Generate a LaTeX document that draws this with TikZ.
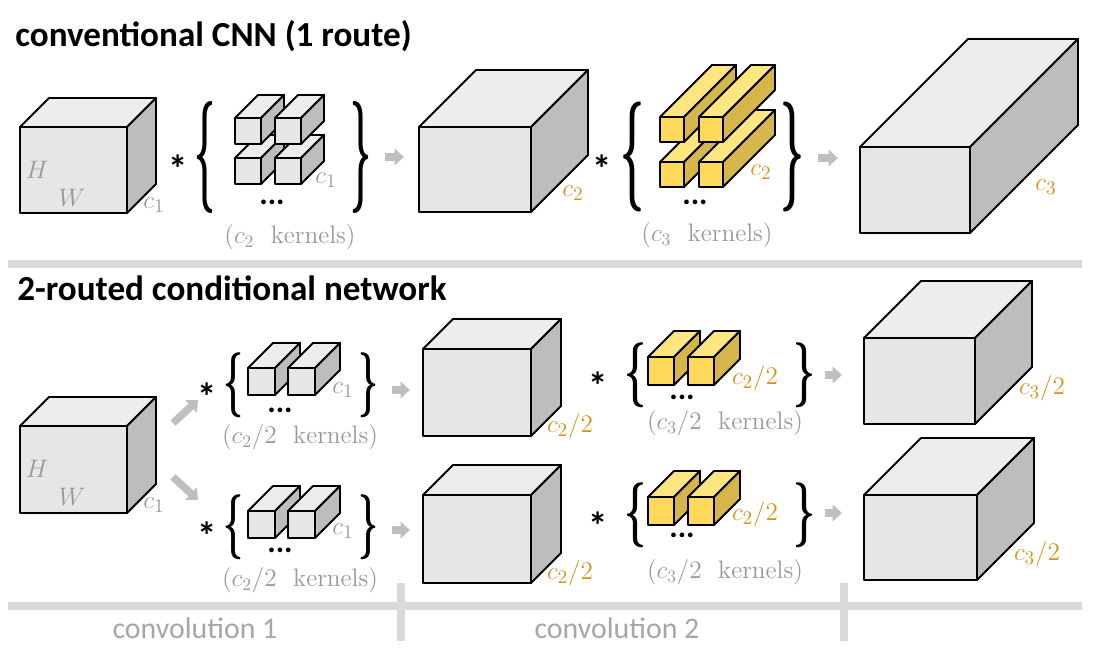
\documentclass[tikz,border=0pt]{standalone}
\usepackage{fontspec}
\usepackage{graphicx}
\newfontfamily\calibri{Carlito}
\usetikzlibrary{arrows.meta}

\definecolor{grfront}{HTML}{E6E6E6}
\definecolor{grtop}{HTML}{EDEDED}
\definecolor{grside}{HTML}{BDBDBD}
\definecolor{yefront}{HTML}{FFD95A}
\definecolor{yetop}{HTML}{FFE680}
\definecolor{yeside}{HTML}{D6B64A}
\definecolor{labelgray}{HTML}{999999}
\definecolor{labelorange}{HTML}{D6941A}
\definecolor{sepgray}{HTML}{D9D9D9}
\definecolor{arrowgray}{HTML}{BFBFBF}
\definecolor{convgray}{HTML}{A6A6A6}

\tikzset{
  cubeline/.style={draw=black, line width=1.1pt, line join=round},
  sepline/.style={draw=sepgray, line width=0.16cm},
  grayarrow/.style={draw=arrowgray, line width=0.15cm, -{Triangle[length=0.19cm, width=0.33cm]}},
  title/.style={font=\calibri\bfseries\fontsize{20}{24}\selectfont, anchor=base west, inner sep=0},
  mathlbl/.style={font=\fontsize{15.5}{18}\selectfont, text=labelgray, inner sep=0},
  orlbl/.style={mathlbl, text=labelorange},
  kernlbl/.style={font=\fontsize{14.4}{17}\selectfont, text=labelgray, inner sep=0},
  asterisk/.style={font=\calibri\bfseries\fontsize{22}{26}\selectfont, inner sep=0, yshift=-5pt},
  ellip/.style={font=\calibri\bfseries\fontsize{18}{20}\selectfont, inner sep=0},
  convlbl/.style={font=\calibri\fontsize{17}{20}\selectfont, text=convgray, inner sep=0},
  bracenode/.style={inner sep=0, text=black}
}

% cuboid: x, y (front top-left), width, height, depth, colour set
\newcommand{\cuboid}[6]{%
  \draw[cubeline, fill=#6top] (#1,#2) -- ++(#5,-#5) -- ++(#3,0) -- ++(-#5,#5) -- cycle;
  \draw[cubeline, fill=#6side] (#1+#3,#2) -- ++(#5,-#5) -- ++(0,#4) -- ++(-#5,#5) -- cycle;
  \draw[cubeline, fill=#6front] (#1,#2) rectangle ++(#3,#4);
}
% braces: width, height
\newcommand{\lbrc}[2]{\resizebox*{#1}{#2}{\bfseries\{}}
\newcommand{\rbrc}[2]{\resizebox*{#1}{#2}{\bfseries\}}}

\begin{document}
\begin{tikzpicture}[x=0.02cm, y=-0.02cm]
    \useasboundingbox[fill=white] (0,0) rectangle (1094,648);

    % Separators
    \draw[sepline] (8,264) -- (1082,264);
    \draw[sepline] (8,606) -- (1082,606);
    \draw[sepline] (401,583) -- (401,641);
    \draw[sepline] (844,583) -- (844,641);

    % Conventional CNN
    \node[title] (ttop) at (15,47) {conventional CNN (1 route)};

    % Input
    \cuboid{20}{127}{107}{86}{29}{gr}
    \node[mathlbl] (h1) at (37,170) {$H$};
    \node[mathlbl] (w1) at (72,198) {$W$};
    \node[mathlbl] (cin1) at (154,205) {$c_1$};

    % Convolution 1
    \node[asterisk] (ast1) at (178,160) {*};
    \node[bracenode] (lb1) at (205,157) {\lbrc{0.42cm}{2.24cm}};
    \cuboid{235}{158}{26}{26}{23}{gr}
    \cuboid{275}{158}{26}{26}{23}{gr}
    \cuboid{235}{118}{26}{26}{23}{gr}
    \cuboid{275}{118}{26}{26}{23}{gr}
    \node[ellip] (dot1) at (272,202) {...};
    \node[mathlbl] (ck1) at (326,180) {$c_1$};
    \node[bracenode] (rb1) at (361,157) {\rbrc{0.42cm}{2.24cm}};
    \node[kernlbl] (kn1) at (290,237) {$(c_2\ \ \mathrm{kernels})$};

    \coordinate (a1s) at (385,157);
    \coordinate (a1e) at (404,157);
    \draw[grayarrow] (a1s) -- (a1e);

    % Convolution 2
    \cuboid{419}{127}{112}{85}{57}{gr}
    \node[orlbl] (cmid1) at (573,193) {$c_2$};
    \node[asterisk] (ast2) at (602,160) {*};
    \node[bracenode] (lb2) at (632,157) {\lbrc{0.48cm}{2.2cm}};
    \cuboid{660}{162}{24}{25}{52}{ye}
    \cuboid{699}{162}{24}{25}{52}{ye}
    \cuboid{660}{117}{24}{25}{52}{ye}
    \cuboid{699}{117}{24}{25}{52}{ye}
    \node[ellip] (dot2) at (695,202) {...};
    \node[orlbl] (ck2) at (761,172) {$c_2$};
    \node[bracenode] (rb2) at (792,157) {\rbrc{0.48cm}{2.2cm}};
    \node[kernlbl] (kn2) at (707,235) {$(c_3\ \ \mathrm{kernels})$};

    \coordinate (a2s) at (818,158);
    \coordinate (a2e) at (838,158);
    \draw[grayarrow] (a2s) -- (a2e);

    % Output
    \cuboid{860}{147}{110}{86}{108}{gr}
    \node[orlbl] (cout1) at (1046,187) {$c_3$};

    % 2-routed conditional network
    \node[title] (tbot) at (17,300) {2-routed conditional network};

    % Input
    \cuboid{20}{426}{107}{87}{29}{gr}
    \node[mathlbl] (h2) at (37,469) {$H$};
    \node[mathlbl] (w2) at (72,497) {$W$};
    \node[mathlbl] (cin2) at (154,505) {$c_1$};

    \coordinate (r1s) at (173,423);
    \coordinate (r1e) at (198,400);
    \coordinate (r2s) at (173,477);
    \coordinate (r2e) at (198,500);
    \draw[grayarrow] (r1s) -- (r1e);
    \draw[grayarrow] (r2s) -- (r2e);

    % Convolution 1, route 1
    \node[asterisk] (ast3) at (207,388) {*};
    \node[bracenode] (lb3) at (233,385) {\lbrc{0.4cm}{1.3cm}};
    \cuboid{248}{368}{27}{27}{25}{gr}
    \cuboid{288}{368}{27}{27}{25}{gr}
    \node[ellip] (dot3) at (280,410) {...};
    \node[mathlbl] (ck3) at (343,390) {$c_1$};
    \node[bracenode] (rb3) at (368,385) {\rbrc{0.4cm}{1.3cm}};
    \node[kernlbl] (kn3) at (300,437) {$(c_2/2\ \ \mathrm{kernels})$};

    % Convolution 1, route 2
    \node[asterisk] (ast4) at (207,527) {*};
    \node[bracenode] (lb4) at (233,527) {\lbrc{0.4cm}{1.3cm}};
    \cuboid{248}{511}{27}{27}{25}{gr}
    \cuboid{288}{511}{27}{27}{25}{gr}
    \node[ellip] (dot4) at (280,550) {...};
    \node[mathlbl] (ck4) at (343,531) {$c_1$};
    \node[bracenode] (rb4) at (368,527) {\rbrc{0.4cm}{1.3cm}};
    \node[kernlbl] (kn4) at (300,580) {$(c_2/2\ \ \mathrm{kernels})$};

    \coordinate (a3s) at (392,390);
    \coordinate (a3e) at (410,390);
    \coordinate (a4s) at (392,530);
    \coordinate (a4e) at (410,530);
    \draw[grayarrow] (a3s) -- (a3e);
    \draw[grayarrow] (a4s) -- (a4e);

    % Convolution 2, route 1
    \cuboid{423}{349}{108}{87}{30}{gr}
    \node[orlbl] (cmid2) at (570,426) {$c_2/2$};
    \node[asterisk] (ast5) at (598,377) {*};
    \node[bracenode] (lb5) at (635,375) {\lbrc{0.44cm}{1.3cm}};
    \cuboid{648}{357}{26}{28}{26}{ye}
    \cuboid{688}{357}{26}{28}{26}{ye}
    \node[ellip] (dot5) at (682,397) {...};
    \node[orlbl] (ck5) at (755,378) {$c_2/2$};
    \node[bracenode] (rb5) at (804,375) {\rbrc{0.44cm}{1.3cm}};
    \node[kernlbl] (kn5) at (725,423) {$(c_3/2\ \ \mathrm{kernels})$};

    % Convolution 2, route 2
    \cuboid{423}{495}{108}{88}{30}{gr}
    \node[orlbl] (cmid3) at (570,573) {$c_2/2$};
    \node[asterisk] (ast6) at (598,517) {*};
    \node[bracenode] (lb6) at (635,515) {\lbrc{0.44cm}{1.3cm}};
    \cuboid{648}{497}{26}{28}{26}{ye}
    \cuboid{688}{497}{26}{28}{26}{ye}
    \node[ellip] (dot6) at (682,535) {...};
    \node[orlbl] (ck6) at (755,514) {$c_2/2$};
    \node[bracenode] (rb6) at (804,515) {\rbrc{0.44cm}{1.3cm}};
    \node[kernlbl] (kn6) at (725,572) {$(c_3/2\ \ \mathrm{kernels})$};

    \coordinate (a5s) at (825,375);
    \coordinate (a5e) at (842,375);
    \coordinate (a6s) at (825,513);
    \coordinate (a6e) at (842,513);
    \draw[grayarrow] (a5s) -- (a5e);
    \draw[grayarrow] (a6s) -- (a6e);

    % Outputs
    \cuboid{864}{338}{111}{86}{57}{gr}
    \node[orlbl] (cout2) at (1042,388) {$c_3/2$};
    \cuboid{864}{495}{113}{85}{57}{gr}
    \node[orlbl] (cout3) at (1037,554) {$c_3/2$};

    % Stages
    \node[convlbl] (conv1) at (195,628) {convolution 1};
    \node[convlbl] (conv2) at (617,628) {convolution 2};
\end{tikzpicture}
\end{document}
